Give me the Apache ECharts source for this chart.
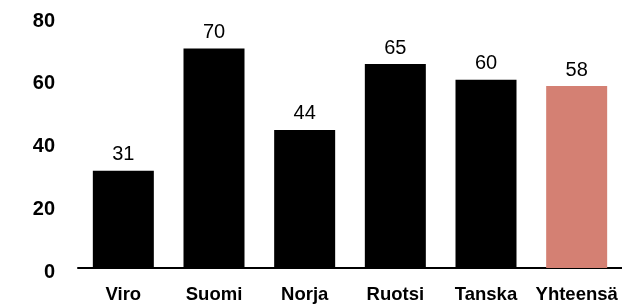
<!DOCTYPE html>
<html>
<head>
<meta charset="utf-8">
<script src="https://cdn.jsdelivr.net/npm/echarts@6/dist/echarts.min.js"></script>
<style>
  html, body { margin: 0; padding: 0; background: #fff; }
  #chart { width: 622px; height: 304px; }
</style>
</head>
<body>
<div id="chart"></div>
<script>
// data
var countries = ['Viro', 'Suomi', 'Norja', 'Ruotsi', 'Tanska', 'Yhteensä'];
var values = [31, 70, 44, 65, 60, 58];
var highlightName = 'Yhteensä';

var chart = echarts.init(document.getElementById('chart'));

var seriesData = values.map(function (v, i) {
  return {
    value: v,
    itemStyle: { color: countries[i] === highlightName ? '#d48073' : '#000' }
  };
});

var options = {
  animation: false,
  grid: { left: 78, right: 0, top: 17, bottom: 35 },
  textStyle: { fontFamily: 'Liberation Sans' },
  xAxis: {
    type: 'category',
    data: countries,
    axisLine: { lineStyle: { color: '#000', width: 2 } },
    axisTick: { show: false },
    axisLabel: {
      color: '#000',
      fontSize: 18.5,
      fontWeight: 'bold',
      margin: 17,
      interval: 0
    }
  },
  yAxis: {
    type: 'value',
    min: 0,
    max: 80,
    interval: 20,
    splitLine: { show: false },
    axisLine: { show: false },
    axisTick: { show: false },
    axisLabel: {
      color: '#000',
      fontSize: 20,
      fontWeight: 'bold',
      margin: 23,
      verticalAlign: 'top',
      lineHeight: 8
    }
  },
  series: [
    {
      type: 'bar',
      data: seriesData,
      barWidth: 61,
      label: {
        show: true,
        position: 'top',
        distance: 6,
        color: '#000',
        fontSize: 20
      }
    }
  ]
};

chart.setOption(options);
</script>
</body>
</html>
